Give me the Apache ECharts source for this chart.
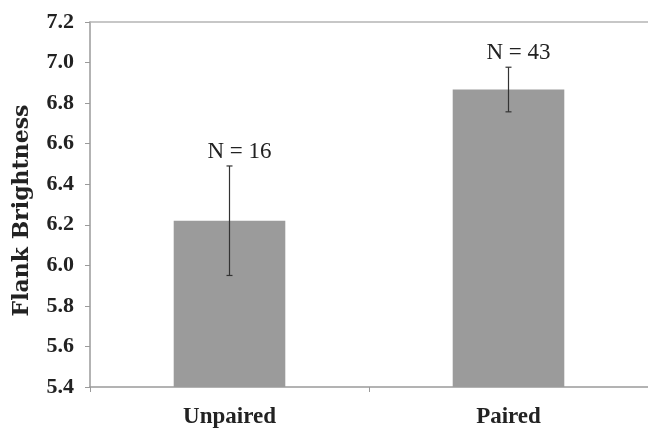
<!DOCTYPE html>
<html>
<head>
<meta charset="utf-8">
<script src="https://cdn.jsdelivr.net/npm/echarts@6/dist/echarts.min.js"></script>
<style>
  html, body { margin: 0; padding: 0; background: #fff; }
  #chart { width: 648px; height: 429px; }
</style>
</head>
<body>
<div id="chart"></div>
<script>
// Mean flank brightness by pairing status, with error bars and sample sizes
const categories = ['Unpaired', 'Paired'];
const means = [6.22, 6.867];
const errors = [0.27, 0.11];
const sampleSizes = [16, 43];
const yTicks = { min: 5.4, max: 7.2, interval: 0.2 };

const serif = '"Liberation Serif", "DejaVu Serif", serif';
const wideSerif = '"DejaVu Serif", "Liberation Serif", serif';

const chart = echarts.init(document.getElementById('chart'));

chart.setOption({
  animation: false,
  backgroundColor: '#fff',
  grid: { left: 90, right: 0, top: 22, bottom: 40 },
  xAxis: [
    {
      type: 'category',
      data: categories,
      axisLine: { lineStyle: { color: '#9a9a9a', width: 1.5 } },
      axisTick: { show: true, length: 5, lineStyle: { color: '#9a9a9a' } },
      axisLabel: {
        fontFamily: serif, fontWeight: 'bold', fontSize: 23,
        color: '#222', margin: 19
      }
    },
    {
      // plain frame line along the top of the plot
      type: 'category',
      data: categories,
      position: 'top',
      axisLine: { show: true, lineStyle: { color: '#b5b5b5', width: 1.5 } },
      axisTick: { show: false },
      axisLabel: { show: false }
    }
  ],
  yAxis: {
    type: 'value',
    min: yTicks.min,
    max: yTicks.max,
    interval: yTicks.interval,
    name: 'Flank Brightness',
    nameLocation: 'middle',
    nameGap: 57,
    nameTextStyle: {
      fontFamily: wideSerif, fontWeight: 'bold', fontSize: 22, color: '#222',
      padding: [0, 12, 0, 0]
    },
    axisLine: { show: true, lineStyle: { color: '#9a9a9a', width: 1.5 } },
    axisTick: { show: true, length: 5, lineStyle: { color: '#9a9a9a' } },
    splitLine: { show: false },
    axisLabel: {
      fontFamily: serif, fontWeight: 'bold', fontSize: 22, color: '#222',
      margin: 16,
      formatter: v => v.toFixed(1)
    }
  },
  series: [
    {
      type: 'bar',
      data: means,
      barWidth: '40%',
      itemStyle: { color: '#9b9b9b' },
      z: 2
    },
    {
      type: 'custom',
      z: 5,
      data: means.map((m, i) => [i, m - errors[i], m + errors[i], sampleSizes[i]]),
      renderItem: function (params, api) {
        const i = api.value(0);
        const lo = api.coord([i, api.value(1)]);
        const hi = api.coord([i, api.value(2)]);
        const cap = 3;
        const stroke = { stroke: '#333', lineWidth: 1.2 };
        return {
          type: 'group',
          children: [
            { type: 'line', shape: { x1: hi[0], y1: hi[1], x2: lo[0], y2: lo[1] }, style: stroke },
            { type: 'line', shape: { x1: hi[0] - cap, y1: hi[1], x2: hi[0] + cap, y2: hi[1] }, style: stroke },
            { type: 'line', shape: { x1: lo[0] - cap, y1: lo[1], x2: lo[0] + cap, y2: lo[1] }, style: stroke },
            {
              type: 'text',
              style: {
                text: 'N = ' + api.value(3),
                x: hi[0] + 10,
                y: hi[1] - 3,
                textAlign: 'center',
                textVerticalAlign: 'bottom',
                fontFamily: serif,
                fontSize: 23,
                fill: '#222'
              }
            }
          ]
        };
      }
    }
  ]
});
</script>
</body>
</html>
